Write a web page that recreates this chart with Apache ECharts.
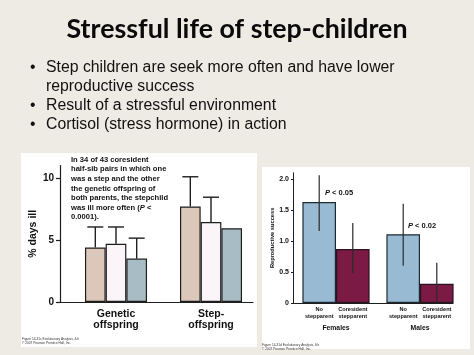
<!DOCTYPE html>
<html>
<head>
<meta charset="utf-8">
<script src="https://cdn.jsdelivr.net/npm/echarts@6/dist/echarts.min.js"></script>
<style>
html,body{margin:0;padding:0;background:#eeeae4;}
#c{width:474px;height:355px;}
</style>
</head>
<body>
<div id="c"></div>
<script>
// ---------- data ----------
const titleText = 'Stressful life of step-children';
const bullets = [
  'Step children are seek more often and have lower',
  'reproductive success',
  'Result of a stressful environment',
  'Cortisol (stress hormone) in action'
];
const bulletMarks = [true, false, true, true];

// left chart: % days ill
const leftCategories = ['Genetic\noffspring', 'Step-\noffspring'];
const leftTan = [4.4, 7.7];
const leftTanErr = [6.05, 10.1];
const leftPink = [4.7, 6.45];
const leftPinkErr = [6.05, 8.45];
const leftBlue = [3.5, 5.95];
const leftBlueErr = [5.15, null];
const leftYTicks = [0, 5, 10];
const leftYName = '% days ill';

// right chart: reproductive success
const rightGroups = ['Females', 'Males'];
const rightBarLabels = ['No\nstepparent', 'Coresident\nstepparent'];
const noStep = [1.63, 1.11];
const noStepLow = [1.16, 0.60];
const noStepHigh = [2.06, 1.60];
const coresStep = [0.87, 0.31];
const coresLow = [0.48, 0.0];
const coresHigh = [1.29, 0.65];
const rightYTicks = [0, 0.5, 1.0, 1.5, 2.0];
const rightYName = 'Reproductive success';
const pLabels = ['0.05', '0.02'];

// ---------- chart ----------
const chart = echarts.init(document.getElementById('c'), null, {renderer: 'canvas'});
const dark = '#1e1e1e';
const LEFT_GAP = 0.347;
const RIGHT_GAP = 0.2;
const boldFont = 'Liberation Sans';

function leftErr(k, vals, errs) {
  return {
    type: 'custom', xAxisIndex: 1, yAxisIndex: 1, z: 5,
    data: vals.map((v, i) => [i, v, errs[i] == null ? v : errs[i]]),
    renderItem: function (params, api) {
      const i = api.value(0);
      const p0 = api.coord([i, api.value(1)]);
      const p1 = api.coord([i, api.value(2)]);
      if (Math.abs(p0[1] - p1[1]) < 0.5) return null;
      const bw = api.size([1, 0])[0] * (1 - LEFT_GAP) / 3;
      const x = p0[0] + (k - 1) * bw;
      const st = {stroke: dark, lineWidth: 1.4};
      return {type: 'group', children: [
        {type: 'line', shape: {x1: x, y1: p0[1], x2: x, y2: p1[1]}, style: st},
        {type: 'line', shape: {x1: x - 8, y1: p1[1], x2: x + 8, y2: p1[1]}, style: st}
      ]};
    }
  };
}
function rightErr(k, lows, highs) {
  return {
    type: 'custom', xAxisIndex: 3, yAxisIndex: 3, z: 5,
    data: lows.map((l, i) => [i, l, highs[i]]),
    renderItem: function (params, api) {
      const i = api.value(0);
      const p0 = api.coord([i, api.value(1)]);
      const p1 = api.coord([i, api.value(2)]);
      const bw = api.size([1, 0])[0] * (1 - RIGHT_GAP) / 2;
      const x = p0[0] + (k === 0 ? -bw / 2 : bw / 2);
      return {type: 'line', shape: {x1: x, y1: p0[1], x2: x, y2: p1[1]},
        style: {stroke: '#2a2a2a', lineWidth: 1.2}};
    }
  };
}

const barBorder = {borderColor: dark, borderWidth: 1.2};
const smallLabel = {color: '#111', fontFamily: boldFont, fontWeight: 'bold', fontSize: 5.6, lineHeight: 7};

const option = {
  backgroundColor: '#eeeae4',
  animation: false,
  grid: [
    {left: 60, top: 165.6, width: 193, height: 136.4},
    {left: 68.5, top: 165.6, width: 190, height: 136.4},
    {left: 293, top: 172.8, width: 160, height: 130.2},
    {left: 294, top: 172.8, width: 168, height: 130.2}
  ],
  xAxis: [
    {type: 'value', gridIndex: 0, min: 0, max: 1, splitLine: {show: false},
      axisLabel: {show: false}, axisTick: {show: false},
      axisLine: {show: true, onZero: false, lineStyle: {color: dark, width: 1.2}}},
    {type: 'category', gridIndex: 1, data: leftCategories,
      axisLine: {show: false}, axisTick: {show: false},
      axisLabel: {margin: 6, color: '#111', fontFamily: boldFont, fontWeight: 'bold',
        fontSize: 10.5, lineHeight: 11.5}},
    {type: 'value', gridIndex: 2, min: 0, max: 1, splitLine: {show: false},
      axisLabel: {show: false}, axisTick: {show: false},
      axisLine: {show: true, onZero: false, lineStyle: {color: dark, width: 1.2}}},
    {type: 'category', gridIndex: 3, data: rightGroups,
      axisLine: {show: false}, axisTick: {show: false},
      axisLabel: {margin: 22, color: '#111', fontFamily: boldFont, fontWeight: 'bold', fontSize: 6.8}}
  ],
  yAxis: [
    {type: 'value', gridIndex: 0, min: 0, max: 11, interval: 5, splitLine: {show: false},
      axisLine: {show: true, lineStyle: {color: dark, width: 1.2}},
      axisTick: {show: true, length: 4, inside: false, customValues: leftYTicks, lineStyle: {color: dark, width: 1.2}},
      axisLabel: {customValues: leftYTicks, margin: 6, color: '#111', fontFamily: boldFont, fontWeight: 'bold', fontSize: 10},
      name: leftYName, nameLocation: 'middle', nameRotate: 90, nameGap: 21,
      nameTextStyle: {color: '#111', fontFamily: boldFont, fontWeight: 'bold', fontSize: 10.5}},
    {type: 'value', gridIndex: 1, min: 0, max: 11, show: false},
    {type: 'value', gridIndex: 2, min: 0, max: 2.1, interval: 0.5, splitLine: {show: false},
      axisLine: {show: true, lineStyle: {color: dark, width: 1}},
      axisTick: {show: true, length: 2, customValues: rightYTicks, lineStyle: {color: dark, width: 1}},
      axisLabel: {customValues: rightYTicks, margin: 4, color: '#111', fontFamily: boldFont, fontWeight: 'bold', fontSize: 7,
        formatter: v => v === 0 ? '0' : v.toFixed(1)},
      name: rightYName, nameLocation: 'middle', nameRotate: 90, nameGap: 18,
      nameTextStyle: {color: '#111', fontFamily: boldFont, fontWeight: 'bold', fontSize: 5.7}},
    {type: 'value', gridIndex: 3, min: 0, max: 2.1, show: false}
  ],
  series: [
    {type: 'bar', xAxisIndex: 1, yAxisIndex: 1, data: leftTan, barGap: '0%', barCategoryGap: (LEFT_GAP * 100) + '%',
      itemStyle: Object.assign({color: '#dcc7bb'}, barBorder)},
    {type: 'bar', xAxisIndex: 1, yAxisIndex: 1, data: leftPink, barGap: '0%', barCategoryGap: (LEFT_GAP * 100) + '%',
      itemStyle: Object.assign({color: '#fbf4f8'}, barBorder)},
    {type: 'bar', xAxisIndex: 1, yAxisIndex: 1, data: leftBlue, barGap: '0%', barCategoryGap: (LEFT_GAP * 100) + '%',
      itemStyle: Object.assign({color: '#a8bcc5'}, barBorder)},
    leftErr(0, leftTan, leftTanErr),
    leftErr(1, leftPink, leftPinkErr),
    leftErr(2, leftBlue, leftBlueErr),
    {type: 'bar', xAxisIndex: 3, yAxisIndex: 3, data: noStep, barGap: '0%', barCategoryGap: (RIGHT_GAP * 100) + '%',
      itemStyle: {color: '#98bbd3', borderColor: '#1e2a33', borderWidth: 1.2},
      label: Object.assign({show: true, position: 'bottom', distance: 3, formatter: () => rightBarLabels[0]}, smallLabel)},
    {type: 'bar', xAxisIndex: 3, yAxisIndex: 3, data: coresStep, barGap: '0%', barCategoryGap: (RIGHT_GAP * 100) + '%',
      itemStyle: {color: '#7b1b45', borderColor: '#2a1420', borderWidth: 1.2},
      label: Object.assign({show: true, position: 'bottom', distance: 3, formatter: () => rightBarLabels[1]}, smallLabel)},
    rightErr(0, noStepLow, noStepHigh),
    rightErr(1, coresLow, coresHigh)
  ],
  graphic: [
    {type: 'rect', z: -10, shape: {x: 21, y: 153, width: 236, height: 194}, style: {fill: '#ffffff'}},
    {type: 'rect', z: -10, shape: {x: 262, y: 167, width: 208, height: 182}, style: {fill: '#ffffff'}},
    {type: 'text', z: 100, x: 237, y: 29, style: {text: titleText, fill: '#0a0a0a',
      font: 'bold 26.8px Lato', align: 'center', verticalAlign: 'middle'}},
    {type: 'group', z: 100, children: bullets.map((b, i) => ({
      type: 'group', children: [
        bulletMarks[i] ? {type: 'text', x: 30, y: 68 + i * 19, style: {text: '•', fill: '#111',
          font: '15.8px "Liberation Sans"', verticalAlign: 'middle'}} : null,
        {type: 'text', x: 46, y: 68 + i * 19, style: {text: b, fill: '#111',
          font: '15.8px "Liberation Sans"', verticalAlign: 'middle'}}
      ].filter(Boolean)}))},
    {type: 'text', z: 100, x: 71, y: 155, style: {
      text: 'In 34 of 43 coresident\nhalf-sib pairs in which one\nwas a step and the other\nthe genetic offspring of\nboth parents, the stepchild\nwas ill more often ({i|P} <\n0.0001).',
      fill: '#111', font: 'bold 7.6px "Liberation Sans"', lineHeight: 9.6,
      rich: {i: {fontStyle: 'italic', fontWeight: 'bold', fontSize: 7.6, fontFamily: 'Liberation Sans', fill: '#111'}}}},
    {type: 'text', z: 100, x: 325, y: 193, style: {text: '{i|P} < ' + pLabels[0], fill: '#111',
      font: 'bold 7.5px "Liberation Sans"', verticalAlign: 'middle',
      rich: {i: {fontStyle: 'italic', fontWeight: 'bold', fontSize: 7.5, fontFamily: 'Liberation Sans'}}}},
    {type: 'text', z: 100, x: 408, y: 226, style: {text: '{i|P} < ' + pLabels[1], fill: '#111',
      font: 'bold 7.5px "Liberation Sans"', verticalAlign: 'middle',
      rich: {i: {fontStyle: 'italic', fontWeight: 'bold', fontSize: 7.5, fontFamily: 'Liberation Sans'}}}},
    {type: 'text', z: 100, x: 22, y: 337, style: {text: 'Figure 14-31c Evolutionary Analysis, 4/e\n© 2007 Pearson Prentice Hall, Inc.',
      fill: '#333', font: '3.2px "Liberation Sans"', lineHeight: 3.8}},
    {type: 'text', z: 100, x: 262, y: 343, style: {text: 'Figure 14-31d Evolutionary Analysis, 4/e\n© 2007 Pearson Prentice Hall, Inc.',
      fill: '#333', font: '3.2px "Liberation Sans"', lineHeight: 3.8}}
  ]
};
chart.setOption(option);
</script>
</body>
</html>
